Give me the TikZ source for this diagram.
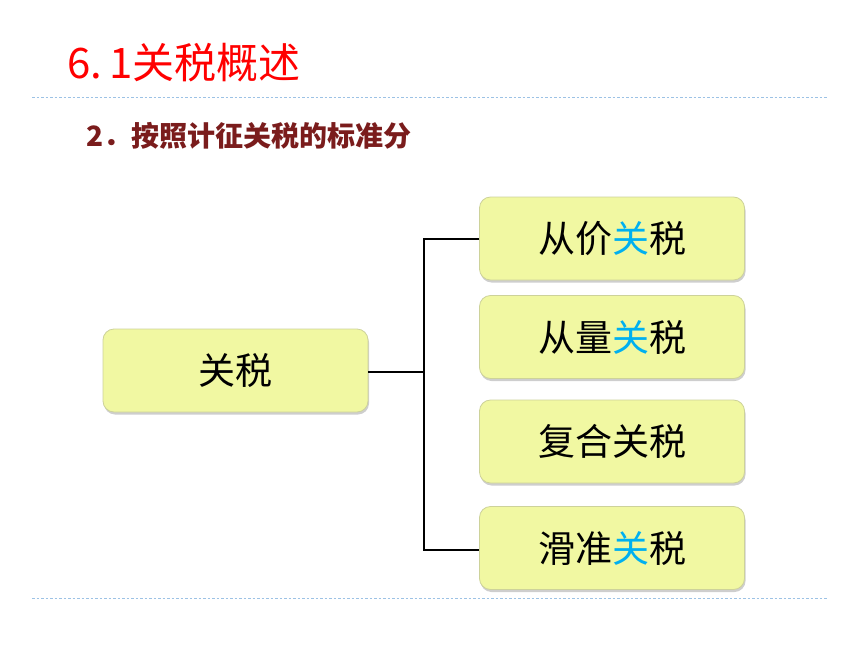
\documentclass[tikz,border=0pt]{standalone}
\usepackage{fontspec}
\newfontfamily\cjk{Noto Sans CJK SC}
\usetikzlibrary{shadows}
\definecolor{titlered}{HTML}{FF0000}
\definecolor{subred}{HTML}{7A1C1C}
\definecolor{boxfill}{HTML}{F1F8A2}
\definecolor{boxline}{HTML}{CDD29A}
\definecolor{sepblue}{HTML}{9CC2E5}
\definecolor{hl}{HTML}{00B0F0}
\tikzset{
  catbox/.style={draw=boxline, line width=0.8pt, fill=boxfill, rounded corners=11pt,
    minimum width=265pt, minimum height=83pt, inner sep=0pt,
    font=\cjk\fontsize{37}{37}\selectfont,
    drop shadow={shadow xshift=1pt, shadow yshift=-2.5pt, opacity=0.35, fill=black!55}},
  sepline/.style={draw=sepblue, line width=0.8pt, dash pattern=on 2.5pt off 2pt},
  link/.style={draw=black, line width=1.6pt}
}
\begin{document}
\begin{tikzpicture}[x=1pt,y=-1pt]
\useasboundingbox (0,0) rectangle (860,645);
\node[anchor=west, inner sep=0pt, text=titlered, font=\cjk\fontsize{42}{42}\selectfont] (title) at (67,63) {6.\hspace{7pt}1关税概述};
\coordinate (s1a) at (32,97); \coordinate (s1b) at (828,97);
\draw[sepline] (s1a) -- (s1b);
\node[anchor=west, inner sep=0pt, text=subred, font=\cjk\bfseries\fontsize{28}{28}\selectfont] (sub) at (86,136) {2．按照计征关税的标准分};
\node[catbox] (root) at (235.5,370.5) {关税};
\node[catbox] (b1) at (612,238.5) {从价{\color{hl}关}税};
\node[catbox] (b2) at (612,337) {从量{\color{hl}关}税};
\node[catbox] (b3) at (612,441.5) {复合关税};
\node[catbox] (b4) at (612,548) {滑准{\color{hl}关}税};
\coordinate (j) at (424,372);
\coordinate (jt) at (424,239);
\coordinate (jb) at (424,550);
\draw[link] (root.east |- j) -- (j);
\draw[link] (b1.west |- jt) -- (jt) -- (jb) -- (b4.west |- jb);
\coordinate (s2a) at (32,598); \coordinate (s2b) at (828,598);
\draw[sepline] (s2a) -- (s2b);
\end{tikzpicture}
\end{document}
